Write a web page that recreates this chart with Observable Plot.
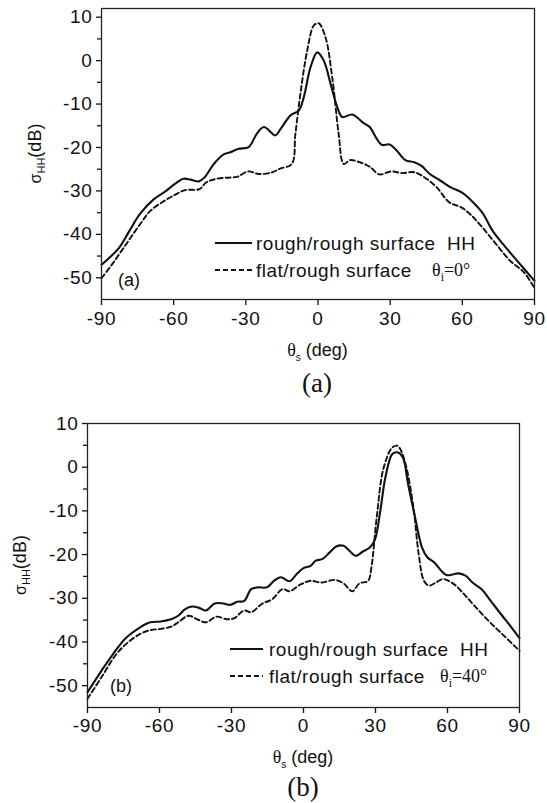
<!DOCTYPE html>
<html><head><meta charset="utf-8">
<script src="https://cdn.jsdelivr.net/npm/d3@7"></script>
<script src="https://cdn.jsdelivr.net/npm/@observablehq/plot@0.6"></script>
<style>
body{margin:0;background:#fff;}
#wrap{position:relative;width:547px;height:803px;overflow:hidden;}
.panel{position:absolute;left:0;}
.panel g[aria-label="x-axis tick label"] text, .panel g[aria-label="y-axis tick label"] text{letter-spacing:0.7px;}
</style></head><body><div id="wrap"></div>
<script>
// ---------- data ----------
const xTicks = [-90, -60, -30, 0, 30, 60, 90];
const yTicks = [-50, -40, -30, -20, -10, 0, 10];
const yMinor = [-45, -35, -25, -15, -5, 5];

// panel (a): theta_i = 0
const aRoughTheta = [-90,-82.7,-78.4,-74,-68.2,-63.9,-59.5,-55.9,-53,-49.5,-47.2,-43.3,-39.2,-36.4,-33,-28.8,-25.4,-22.5,-17.7,-15.9,-11.4,-8,-5.9,-3.1,-0.3,2.4,5.2,8,10.1,14.2,19,21.5,24,26.5,29.8,32.7,36.3,40,42.9,46.5,50.8,55.2,59.6,63.9,68.3,72.6,77,82.8,90];
const aRoughVal   = [-47,-43.1,-39.2,-35.3,-31.9,-30.3,-28.4,-27.2,-27.4,-27.8,-26.9,-23.8,-21.6,-21.1,-20.3,-19.9,-16.8,-15.3,-17.2,-16,-12.6,-11.5,-8.4,-1.5,1.9,0,-5.3,-10.7,-13,-12.4,-14.4,-15.3,-17.6,-19.4,-19.3,-20.7,-22.9,-23.4,-24.2,-26.1,-27.6,-29.2,-30.3,-32.3,-35,-39.2,-42.3,-46.1,-50.7];
const aFlatTheta  = [-90,-85.6,-79.8,-74,-69.7,-63.9,-59.5,-55.2,-49.3,-46.4,-42.1,-36.3,-33.4,-29,-24.7,-18.9,-15.9,-10.9,-9.4,-7.3,-4.5,-1.7,0.3,3.1,5.9,8.6,10.7,13.3,17.4,21.7,25.4,30.5,34.9,40,44.3,49.4,54.5,59.6,63.9,68.3,74.1,79.9,85.7,90];
const aFlatVal    = [-50.1,-46.9,-42.3,-37.7,-34.6,-32.3,-30.9,-29.8,-29.6,-28,-27.2,-26.9,-26.7,-25.5,-26.1,-25.7,-24.9,-23.8,-16.9,-7.6,2.3,8.1,8.6,5.4,-3.8,-16.9,-23.8,-22.9,-23.4,-24.5,-26.2,-25.5,-25.9,-25.7,-26.9,-29.2,-32.6,-33.8,-35.7,-38.4,-42.3,-46.1,-48.8,-52.4];

// panel (b): theta_i = 40
const bRoughTheta = [-90,-84.2,-79.8,-74,-68.2,-63.9,-59.5,-55.2,-52.2,-49.3,-46.4,-43.5,-40.6,-37,-33.4,-30.5,-27.6,-24.7,-21.8,-18.9,-15.2,-12.3,-9.4,-5.8,-2.9,0,2.9,5.1,8,10.9,13.8,16.7,18.9,21.8,24.7,27.6,29.8,32,34.1,37,39.2,41.4,43.6,46.5,49.4,51.6,54.5,57.4,59.6,62.5,64.6,67.5,70.4,74.1,78.4,82.8,87.1,90];
const bRoughVal   = [-51.5,-46.6,-43.1,-39.1,-36.7,-35.5,-35.3,-34.8,-34,-32.5,-31.9,-32.2,-32.8,-31.2,-31.2,-31.5,-30.8,-30.6,-27.9,-27.5,-27.5,-26,-25.2,-26.1,-24.5,-23.1,-22.6,-21.4,-21,-19.5,-18.1,-18,-19,-20.3,-19.3,-18.4,-16.5,-10,-2.4,3,3.4,2.2,-3.9,-11.5,-18.4,-20.6,-21.8,-23.7,-24.7,-24.5,-24.3,-24.8,-26.4,-27.9,-30.9,-34,-37,-39.1];
const bFlatTheta  = [-90,-84.2,-78.4,-74,-68.2,-63.9,-59.5,-55.2,-52.2,-47.9,-44.3,-40.6,-36.3,-32,-29,-24.7,-21.8,-17.4,-13,-8.7,-5.8,-1.4,2.9,7.3,13.1,16.7,20.3,23.3,26.9,28.3,30.5,33.4,37,39.2,40.7,42.9,45.8,48,50.2,52.3,55.2,58.1,62.5,66.8,71.2,77,82.8,90];
const bFlatVal    = [-53,-48.1,-43.1,-40.5,-38.2,-37.3,-37,-36.5,-35.5,-34,-34.8,-35.5,-34.2,-34.8,-34.6,-32.8,-33.2,-31.3,-30.2,-27.9,-28.4,-26.9,-26,-26.4,-25.8,-26.6,-28.4,-26.6,-26,-22.9,-11.5,-0.1,4.5,4.9,3.7,-0.1,-9.2,-19.9,-26,-27.1,-26.4,-25.6,-26.7,-29,-31.7,-35.1,-38.2,-42];

const toRows = (t, v) => t.map((d, i) => ({theta: d, val: v[i]}));

const SANS = "'Liberation Sans', Arial, sans-serif";
const SERIF = "'Liberation Serif', 'Times New Roman', serif";
const fmt = d => `${d}`;

function panel(cfg) {
  const chart = Plot.plot({
    width: 547,
    height: cfg.height,
    marginLeft: cfg.left,
    marginRight: 547 - cfg.right,
    marginTop: cfg.top,
    marginBottom: cfg.height - cfg.bottom,
    x: {domain: [-90, 90]},
    y: {domain: cfg.ydomain},
    style: {fontSize: "19px", fontFamily: SANS, color: "#111", background: "white", overflow: "visible"},
    marks: [
      Plot.axisX(xTicks, {tickSize: 6, tickPadding: cfg.xpad, label: null, strokeWidth: 1.3, tickFormat: fmt}),
      Plot.axisY(yTicks, {tickSize: 5, tickPadding: 4, label: null, strokeWidth: 1.3, tickFormat: fmt}),
      Plot.axisY(yMinor, {tickSize: 4, tickFormat: () => "", label: null, strokeWidth: 1.3}),
      Plot.line(toRows(cfg.flatT, cfg.flatV), {x: "theta", y: "val", curve: "catmull-rom", stroke: "#111", strokeWidth: 1.9, strokeDasharray: "5,3"}),
      Plot.line(toRows(cfg.roughT, cfg.roughV), {x: "theta", y: "val", curve: "catmull-rom", stroke: "#111", strokeWidth: 2.1}),
      Plot.frame({stroke: "#222", strokeWidth: 1.3})
    ]
  });
  const svg = d3.select(chart);
  // y label  σHH(dB)
  const yl = svg.append("text")
    .attr("transform", `translate(${cfg.ylx},${(cfg.top + cfg.bottom) / 2}) rotate(-90)`)
    .attr("text-anchor", "middle").attr("fill", "#111").attr("font-family", SANS);
  yl.append("tspan").attr("font-size", 16).text("σ");
  yl.append("tspan").attr("font-size", 11).attr("dy", 4).text("HH");
  yl.append("tspan").attr("font-size", 18).attr("dy", -4).text("(dB)");
  // x label θs (deg)
  const xl = svg.append("text")
    .attr("x", (cfg.left + cfg.right) / 2).attr("y", cfg.xly)
    .attr("text-anchor", "middle").attr("fill", "#111").attr("font-family", SANS);
  xl.append("tspan").attr("font-family", SERIF).attr("font-size", 18).text("θ");
  xl.append("tspan").attr("font-size", 10).attr("dy", 5).text("s");
  xl.append("tspan").attr("font-size", 18).attr("dy", -5).text(" (deg)");
  // caption (a)/(b)
  svg.append("text").attr("x", cfg.capx).attr("y", cfg.capy).attr("text-anchor", "middle")
    .attr("font-family", SERIF).attr("font-size", 27).attr("fill", "#111").text(cfg.cap);
  // panel tag inside
  svg.append("text").attr("x", cfg.tagx).attr("y", cfg.tagy).attr("dy", "0.35em").attr("text-anchor", "start")
    .attr("font-family", SANS).attr("font-size", 18).attr("fill", "#111").text(cfg.cap);
  // legend
  const L = cfg.leg;
  svg.append("line").attr("x1", L.x0).attr("x2", L.x1).attr("y1", L.y1).attr("y2", L.y1)
    .attr("stroke", "#111").attr("stroke-width", 2.1);
  svg.append("line").attr("x1", L.x0).attr("x2", L.x1).attr("y1", L.y2).attr("y2", L.y2)
    .attr("stroke", "#111").attr("stroke-width", 1.9).attr("stroke-dasharray", "5,3");
  svg.append("text").attr("x", L.tx).attr("y", L.y1).attr("dy", "0.36em").attr("text-anchor", "start")
    .attr("font-family", SANS).attr("font-size", 19).attr("letter-spacing", "0.5px").attr("fill", "#111")
    .text("rough/rough surface  HH").attr("xml:space", "preserve").style("white-space", "pre");
  svg.append("text").attr("x", L.tx).attr("y", L.y2).attr("dy", "0.36em").attr("text-anchor", "start")
    .attr("font-family", SANS).attr("font-size", 19).attr("letter-spacing", "0.5px").attr("fill", "#111")
    .text("flat/rough surface");
  const th = svg.append("text").attr("x", L.thx).attr("y", L.y2).attr("dy", "0.3em").attr("text-anchor", "start")
    .attr("font-family", SERIF).attr("fill", "#111");
  th.append("tspan").attr("font-size", 18).text("θ");
  th.append("tspan").attr("font-size", 12).attr("dy", 5).text("i");
  th.append("tspan").attr("font-size", 18).attr("dy", -5).text("=" + cfg.inc + "°");
  return chart;
}

const wrap = document.getElementById("wrap");

const pa = panel({
  height: 400, left: 101, right: 534, top: 8, bottom: 299, ydomain: [-55, 12], xpad: 6,
  roughT: aRoughTheta, roughV: aRoughVal, flatT: aFlatTheta, flatV: aFlatVal,
  ylx: 41, xly: 356, cap: "(a)", capx: 317, capy: 392, tagx: 118, tagy: 280, inc: "0",
  leg: {x0: 215, x1: 252, tx: 256, y1: 243, y2: 270, thx: 432}
});
pa.classList.add("panel"); pa.style.top = "0px";
wrap.appendChild(pa);

const pb = panel({
  height: 403, left: 87, right: 519, top: 23, bottom: 307, ydomain: [-55, 10], xpad: 5,
  roughT: bRoughTheta, roughV: bRoughVal, flatT: bFlatTheta, flatV: bFlatVal,
  ylx: 26, xly: 363, cap: "(b)", capx: 303, capy: 396, tagx: 110, tagy: 286, inc: "40",
  leg: {x0: 230, x1: 263, tx: 269, y1: 249, y2: 276, thx: 440}
});
pb.classList.add("panel"); pb.style.top = "400px";
wrap.appendChild(pb);
</script>
</body></html>
